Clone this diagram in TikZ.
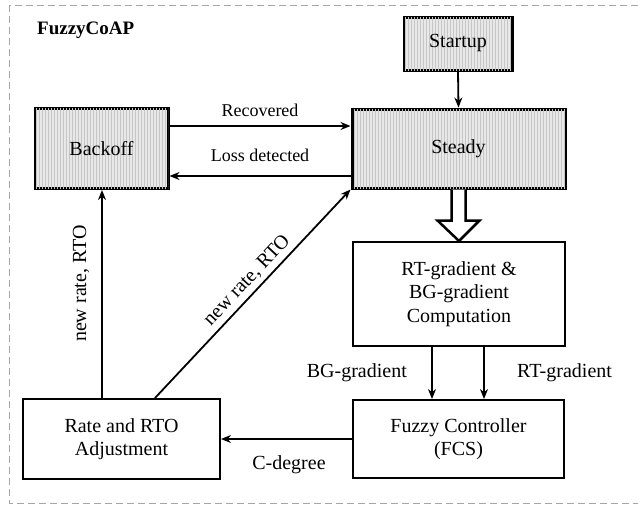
\documentclass[tikz,border=0pt]{standalone}
\usepackage{fontspec}
\setmainfont{Liberation Serif}
\usetikzlibrary{arrows.meta,patterns,calc}

\tikzset{
  state/.style={draw, line width=3pt, fill=gray!18,
    postaction={pattern=vertical lines, pattern color=gray!45},
    inner sep=0pt, font=\fontsize{20}{23.5}\selectfont, align=center},
  block/.style={draw, line width=2pt, fill=white,
    inner sep=0pt, font=\fontsize{20}{23.5}\selectfont, align=center},
  arr/.style={line width=1.8pt, -{Stealth[length=10pt,width=8pt]}},
  lbl/.style={font=\fontsize{20}{23}\selectfont, inner sep=0pt},
  smalllbl/.style={font=\fontsize{18}{21}\selectfont, inner sep=0pt},
  frame/.style={draw=gray!70, line width=1pt, dash pattern=on 7pt off 4pt}
}

\begin{document}
\begin{tikzpicture}[x=1pt, y=-1pt]
  \useasboundingbox (0,0) rectangle (638,504);
  \path[frame] (9,5) rectangle (645,503);

  \node[anchor=west, font=\fontsize{19}{22}\selectfont\bfseries, inner sep=0pt] (title) at (37,30) {FuzzyCoAP};

  % states
  \node[state, minimum width=108pt, minimum height=53pt] (startup) at (458,43.5) {Startup};
  \node[state, minimum width=213pt, minimum height=79pt] (steady) at (458.5,148.5) {Steady};
  \node[state, minimum width=133pt, minimum height=80pt] (backoff) at (101.5,148.5) {Backoff};

  % processing blocks
  \node[block, minimum width=212pt, minimum height=104pt] (grad) at (459,294) {RT-gradient \&\\BG-gradient\\Computation};
  \node[block, minimum width=211pt, minimum height=78pt] (fcs) at (458.5,439) {Fuzzy Controller\\(FCS)};
  \node[block, minimum width=197pt, minimum height=80pt] (rate) at (121.5,439) {Rate and RTO\\Adjustment};

  % transitions between states
  \draw[arr] (startup.south) -- (steady.north);
  \draw[arr] ([yshift=22.5pt]backoff.east) -- node[smalllbl, yshift=16pt] (rec) {Recovered} ([yshift=22.5pt]steady.west);
  \draw[arr] ([yshift=-27.5pt]steady.west) -- node[smalllbl, yshift=21pt] (loss) {Loss detected} ([yshift=-27.5pt]backoff.east);

  % hollow arrow from Steady to the gradient block
  \draw[line width=2.5pt, fill=white, line join=miter]
    ($(steady.south)+(-7,0)$) -- ($(steady.south)+(-7,31)$) -- ($(steady.south)+(-21,31)$)
    -- (grad.north) -- ($(steady.south)+(21,31)$) -- ($(steady.south)+(7,31)$)
    -- ($(steady.south)+(7,0)$);

  % gradients into the controller
  \draw[arr] ([xshift=-27pt]grad.south) -- ([xshift=-27pt]grad.south |- fcs.north);
  \draw[arr] ([xshift=25pt]grad.south) -- ([xshift=25pt]grad.south |- fcs.north);
  \node[lbl, anchor=east] (bglbl) at (407,373) {BG-gradient};
  \node[lbl, anchor=west] (rtlbl) at (517,373) {RT-gradient};

  % controller output
  \draw[arr] (fcs.west) -- (rate.east);
  \node[lbl] (cdeg) at (289,465) {C-degree};

  % new rate and RTO back to the states
  \draw[arr] ([xshift=-19.5pt]rate.north) -- node[lbl, sloped, pos=0.55, yshift=21pt] (nr1) {new rate, RTO} ([xshift=-19.5pt]rate.north |- backoff.south);
  \draw[arr] ([xshift=33.5pt]rate.north) -- node[lbl, sloped, pos=0.52, yshift=13pt] (nr2) {new rate, RTO} (steady.south west);
\end{tikzpicture}
\end{document}
